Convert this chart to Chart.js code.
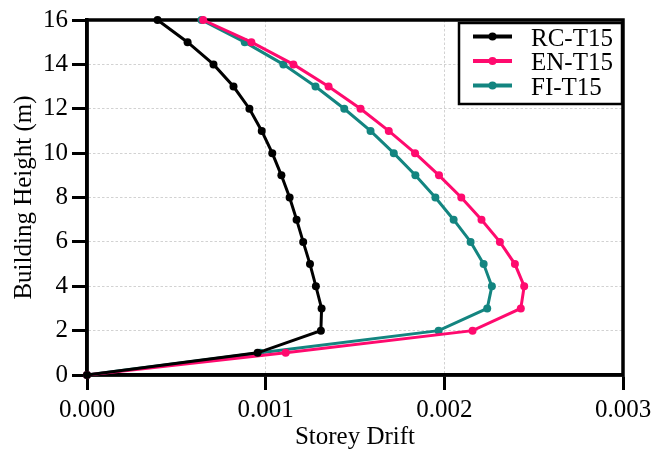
<!DOCTYPE html>
<html lang="en">
<head>
<meta charset="UTF-8">
<title>Storey Drift</title>
<script src="https://cdn.jsdelivr.net/npm/chart.js"></script>
<style>
  body { margin: 0; background: #fff; }
  canvas { display: block; }
</style>
</head>
<body>
<canvas id="grafico" width="670" height="454"></canvas>

<script>
// alturas dos pisos (m)
var alturas = [0, 1, 2, 3, 4, 5, 6, 7, 8, 9, 10, 11, 12, 13, 14, 15, 16];

// storey drift de cada modelo
var driftRC = [0, 0.000955, 0.001309, 0.001313, 0.001281, 0.001248, 0.00121, 0.001173, 0.001134,
    0.001088, 0.001037, 0.000978, 0.000909, 0.00082, 0.000708, 0.000563, 0.000395];
var driftEN = [0, 0.001112, 0.002158, 0.002428, 0.002447, 0.002395, 0.002311, 0.002208, 0.002095,
    0.00197, 0.001836, 0.001689, 0.001531, 0.001352, 0.001155, 0.00092, 0.00065];
var driftFI = [0, 0.00097, 0.001968, 0.00224, 0.002266, 0.00222, 0.002147, 0.002052, 0.00195,
    0.001838, 0.001717, 0.001587, 0.00144, 0.001279, 0.001099, 0.000883, 0.000641];

var nomes = ['RC-T15', 'EN-T15', 'FI-T15'];
var cores = ['#000000', '#ff0a6e', '#138580'];

var xTicks = [0, 0.001, 0.002, 0.003];
var yTicks = [0, 2, 4, 6, 8, 10, 12, 14, 16];

var fonte = 'Liberation Serif, Times New Roman, serif';

function pontos(drift) {
    return drift.map(function (d, i) { return { x: d, y: alturas[i] }; });
}

function serie(i, drift) {
    return {
        label: nomes[i],
        data: pontos(drift),
        showLine: true,
        borderColor: cores[i],
        backgroundColor: cores[i],
        borderWidth: 3,
        pointRadius: 4,
        pointHoverRadius: 4,
        pointBorderWidth: 0,
        order: i,
        clip: false
    };
}

// moldura preta em volta da area do grafico
var moldura = {
    id: 'moldura',
    beforeDatasetsDraw: function (chart) {
        var a = chart.chartArea;
        var ctx = chart.ctx;
        ctx.save();
        ctx.strokeStyle = '#000';
        ctx.lineWidth = 3.5;
        ctx.strokeRect(a.left, a.top, a.right - a.left, a.bottom - a.top);
        ctx.restore();
    }
};

// legenda com caixa, como no original
var legendaCaixa = {
    id: 'legendaCaixa',
    afterDraw: function (chart) {
        var ctx = chart.ctx;
        ctx.save();
        ctx.fillStyle = '#fff';
        ctx.fillRect(459, 23, 163, 81);
        ctx.strokeStyle = '#000';
        ctx.lineWidth = 2.5;
        ctx.strokeRect(459, 23, 163, 81);
        chart.data.datasets.forEach(function (ds, i) {
            var y = 36.5 + i * 24.5;
            ctx.strokeStyle = ds.borderColor;
            ctx.lineWidth = 4;
            ctx.beginPath();
            ctx.moveTo(473, y);
            ctx.lineTo(512, y);
            ctx.stroke();
            ctx.fillStyle = ds.borderColor;
            ctx.beginPath();
            ctx.arc(492.5, y, 4, 0, Math.PI * 2);
            ctx.fill();
            ctx.fillStyle = '#000';
            ctx.font = '25px ' + fonte;
            ctx.textBaseline = 'alphabetic';
            ctx.fillText(ds.label, 531, y + 9);
        });
        ctx.restore();
    }
};

var config = {
    type: 'scatter',
    data: {
        datasets: [serie(0, driftRC), serie(1, driftEN), serie(2, driftFI)]
    },
    options: {
        responsive: false,
        animation: false,
        devicePixelRatio: 1,
        layout: { padding: { top: 20, right: 47, bottom: 0, left: 0 } },
        plugins: {
            legend: { display: false },
            tooltip: { enabled: false }
        },
        scales: {
            x: {
                type: 'linear',
                min: 0,
                max: 0.003,
                afterBuildTicks: function (s) { s.ticks = xTicks.map(function (v) { return { value: v }; }); },
                afterFit: function (s) { s.height = 79; },
                ticks: {
                    color: '#000',
                    padding: 5,
                    font: { family: fonte, size: 25 },
                    callback: function (v) { return Number(v).toFixed(3); }
                },
                grid: {
                    color: '#d2d2d2',
                    lineWidth: 1,
                    tickColor: '#000',
                    tickWidth: 3,
                    tickLength: 15,
                    tickBorderDash: []
                },
                border: { color: '#000', width: 3.5, dash: [2.5, 2] },
                title: {
                    display: true,
                    text: 'Storey Drift',
                    color: '#000',
                    font: { family: fonte, size: 25 },
                    padding: { top: 0, bottom: 2 }
                }
            },
            y: {
                type: 'linear',
                min: 0,
                max: 16,
                afterBuildTicks: function (s) { s.ticks = yTicks.map(function (v) { return { value: v }; }); },
                afterFit: function (s) { s.width = 87; },
                ticks: {
                    color: '#000',
                    padding: 4,
                    font: { family: fonte, size: 25 }
                },
                grid: {
                    color: '#d2d2d2',
                    lineWidth: 1,
                    tickColor: '#000',
                    tickWidth: 3,
                    tickLength: 15,
                    tickBorderDash: []
                },
                border: { color: '#000', width: 3.5, dash: [2.5, 2] },
                title: {
                    display: true,
                    text: 'Building Height (m)',
                    color: '#000',
                    font: { family: fonte, size: 25 },
                    padding: { top: 9, bottom: 0 }
                }
            }
        }
    },
    plugins: [moldura, legendaCaixa]
};

var myChart = new Chart(document.getElementById('grafico'), config);
</script>
</body>
</html>
